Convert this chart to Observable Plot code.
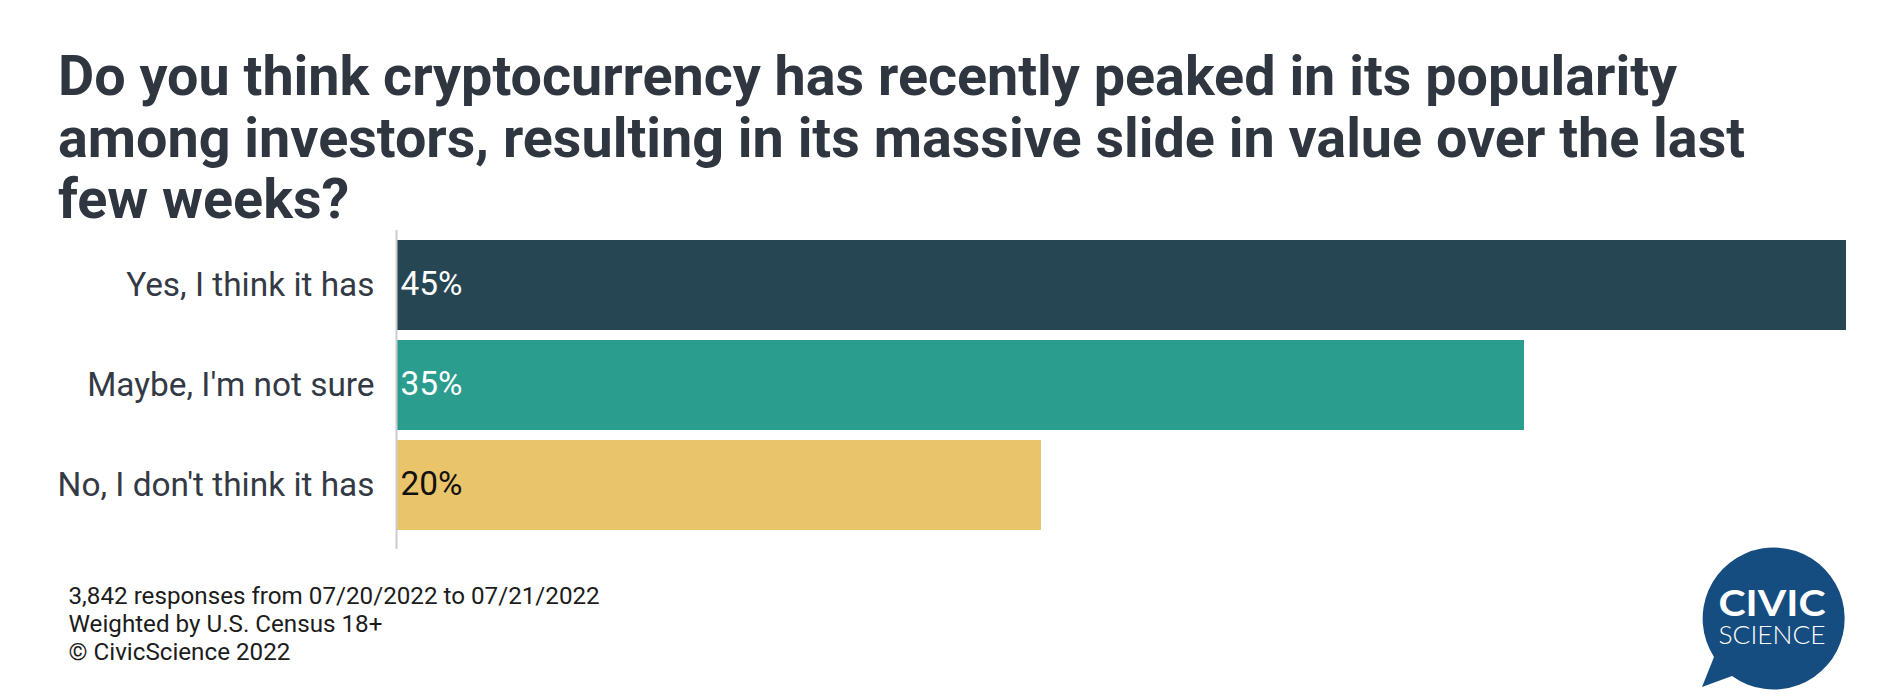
<!DOCTYPE html>
<html>
<head>
<meta charset="utf-8">
<script src="https://cdn.jsdelivr.net/npm/d3@7"></script>
<script src="https://cdn.jsdelivr.net/npm/@observablehq/plot@0.6"></script>
<style>
html,body{margin:0;padding:0;background:#fff;width:1896px;height:698px;overflow:hidden;font-family:Roboto,sans-serif}
#title{position:absolute;left:58px;top:46px;width:1830px;font:700 55.7px/61.5px Roboto,sans-serif;color:#2f3640;white-space:pre-line}
#chart{position:absolute;left:0;top:225px}
#chart svg{display:block;background:transparent}
#caption{position:absolute;left:68.5px;top:581.5px;font:400 24.2px/28.3px Roboto,sans-serif;color:#1c1c1c;white-space:pre-line}
#logo{position:absolute;left:1688.5px;top:539px}
</style>
</head>
<body>
<div id="title"></div>
<div id="chart"></div>
<div id="caption"></div>
<svg id="logo" width="170" height="155" viewBox="0 0 170 155">
  <path d="M25 118 L13 148 L43 137 A71 71 0 1 0 25 118 Z" fill="#164d80"/>
  <text x="83" y="77" text-anchor="middle" font-family="Lato,sans-serif" font-weight="700" font-size="36" fill="#fff" textLength="107" lengthAdjust="spacingAndGlyphs">CIVIC</text>
  <text x="83" y="104.5" text-anchor="middle" font-family="Lato,sans-serif" font-weight="300" font-size="25" fill="#fff" textLength="107" lengthAdjust="spacingAndGlyphs">SCIENCE</text>
</svg>
<script>
const titleLines = [
  "Do you think cryptocurrency has recently peaked in its popularity",
  "among investors, resulting in its massive slide in value over the last",
  "few weeks?"
];
const captionLines = [
  "3,842 responses from 07/20/2022 to 07/21/2022",
  "Weighted by U.S. Census 18+",
  "© CivicScience 2022"
];
const categories = ["Yes, I think it has", "Maybe, I'm not sure", "No, I don't think it has"];
const values = [45, 35, 20];
const barColors = ["#274653", "#2a9d8f", "#e9c46a"];
const labelColors = ["#ffffff", "#ffffff", "#111111"];

document.getElementById("title").textContent = titleLines.join("\n");
document.getElementById("caption").textContent = captionLines.join("\n");

const rows = categories.map((c, i) => ({category: c, value: values[i], labelColor: labelColors[i]}));

const plot = Plot.plot({
  width: 1896,
  height: 330,
  marginLeft: 397,
  marginRight: 50,
  marginTop: 5,
  marginBottom: 6,
  style: {fontFamily: "Roboto, sans-serif", background: "transparent"},
  x: {domain: [0, 45], axis: null},
  y: {domain: categories, paddingInner: 0.1, paddingOuter: 0.145, align: 0.345, label: null},
  color: {domain: categories, range: barColors},
  marks: [
    Plot.barX(rows, {x: "value", y: "category", fill: "category"}),
    Plot.ruleX([0], {stroke: "#cccccc", strokeWidth: 2, dx: -1}),
    Plot.text(rows, {x: 0, y: "category", text: d => d.value + "%", fill: "labelColor", textAnchor: "start", dx: 3, dy: -1, fontSize: 33.4}),
    Plot.axisY({tickSize: 0, tickPadding: 23, fontSize: 33.4, color: "#333a45", label: null})
  ]
});
document.getElementById("chart").appendChild(plot);
</script>
</body>
</html>
